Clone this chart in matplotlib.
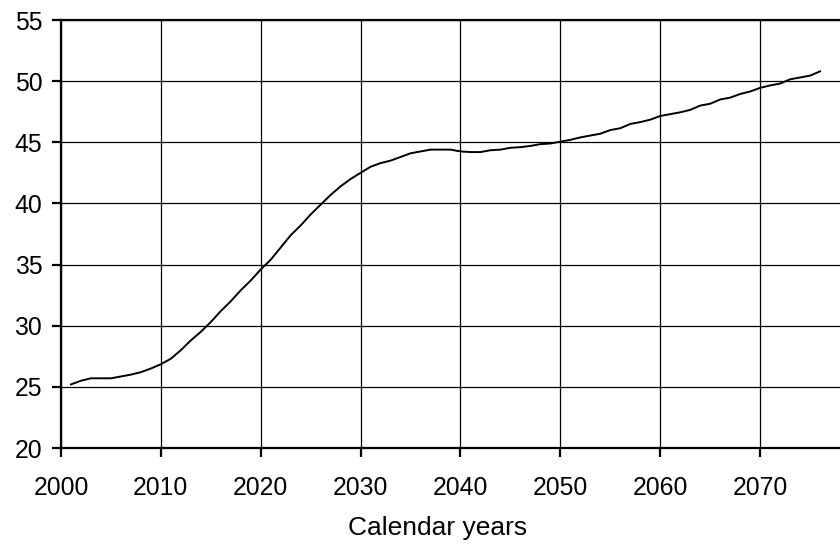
import matplotlib
matplotlib.use('Agg')
import matplotlib.pyplot as plt

# Values, one per calendar year
years = list(range(2001, 2077))
values = [
    25.2, 25.5, 25.7, 25.7, 25.7, 25.85, 26.0, 26.2, 26.5, 26.85,   # 2001-2010
    27.3, 28.0, 28.8, 29.5, 30.3, 31.2, 32.0, 32.9, 33.7, 34.6,     # 2011-2020
    35.4, 36.4, 37.4, 38.2, 39.1, 39.9, 40.7, 41.4, 42.0, 42.5,     # 2021-2030
    43.0, 43.3, 43.5, 43.8, 44.1, 44.25, 44.4, 44.4, 44.4, 44.25,   # 2031-2040
    44.2, 44.2, 44.35, 44.4, 44.55, 44.6, 44.7, 44.85, 44.9, 45.05, # 2041-2050
    45.2, 45.4, 45.55, 45.7, 46.0, 46.15, 46.5, 46.65, 46.85, 47.15,# 2051-2060
    47.3, 47.45, 47.65, 48.0, 48.15, 48.5, 48.65, 48.95, 49.15, 49.45,  # 2061-2070
    49.65, 49.8, 50.15, 50.3, 50.45, 50.8,                          # 2071-2076
]
xticks = list(range(2000, 2071, 10))
yticks = list(range(20, 56, 5))

plt.rcParams['font.family'] = ['Liberation Sans', 'DejaVu Sans']

fig = plt.figure(figsize=(8.4, 5.45), dpi=100)
ax = fig.add_axes([61/840, 1 - 448/545, 1 - 61/840, 428/545])

ax.plot(years, values, color='black', lw=1.4, zorder=3)

ax.set_xlim(2000, 2078)
ax.set_ylim(20, 55)
ax.set_xticks(xticks)
ax.set_yticks(yticks)
ax.grid(True, color='black', lw=0.9)
ax.set_axisbelow(True)

for side in ('left', 'bottom', 'top'):
    ax.spines[side].set_linewidth(1.6)
ax.spines['right'].set_visible(False)

ax.tick_params(axis='both', labelsize=17.8, width=1.6, length=6.5, direction='out')
ax.tick_params(axis='x', pad=14)
ax.tick_params(axis='y', pad=7)

ax.set_xlabel("Calendar years", fontsize=19)
ax.xaxis.set_label_coords(0.484, -0.203)
ax.xaxis.label.set_va('baseline')

fig.savefig("out.png", dpi=100)
